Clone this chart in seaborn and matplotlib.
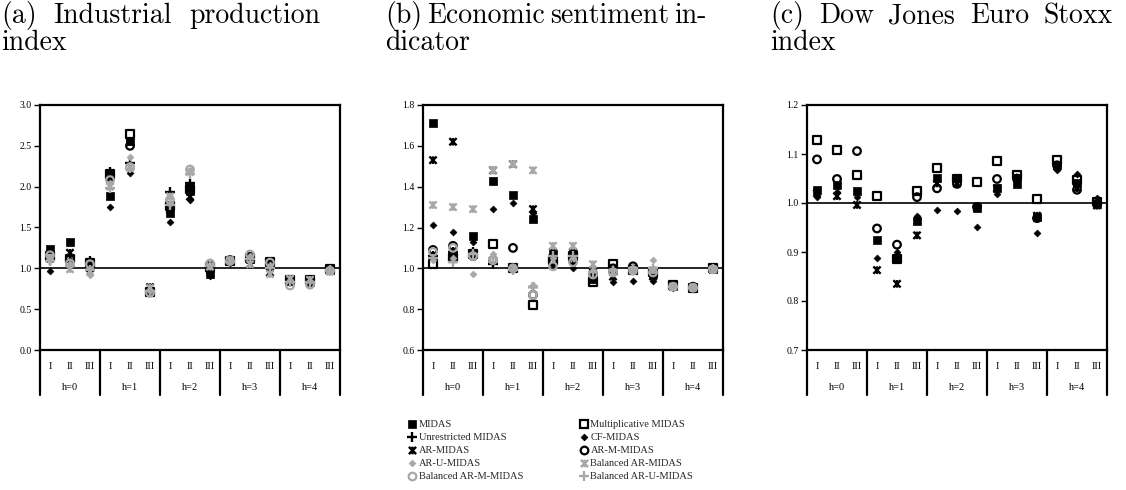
import numpy as np
import pandas as pd
import matplotlib
matplotlib.use("Agg")
import matplotlib.pyplot as plt
import seaborn as sns
from matplotlib.path import Path
from matplotlib.lines import Line2D
from matplotlib.transforms import blended_transform_factory

# ---------------- data ----------------
horizons = ["h=0", "h=1", "h=2", "h=3", "h=4"]
schemes = ["I", "II", "III"]
series_names = ["MIDAS", "Multiplicative MIDAS", "Unrestricted MIDAS", "CF-MIDAS",
                "AR-MIDAS", "AR-M-MIDAS", "AR-U-MIDAS", "Balanced AR-MIDAS",
                "Balanced AR-M-MIDAS", "Balanced AR-U-MIDAS"]
nan = np.nan

# (a) Industrial production index
a_midas  = [1.24, 1.32, 1.06, 1.89, 2.56, 0.71, 1.68, 1.95, 0.93, 1.10, 1.12, 1.06, 0.84, 0.83, 0.98]
a_mult   = [1.15, 1.12, 1.07, 2.15, 2.65, 0.71, 1.76, 1.97, 1.02, 1.09, 1.13, 1.08, 0.86, 0.86, 0.99]
a_unr    = [1.10, 1.15, 1.10, 2.18, 2.29, 0.72, 1.94, 2.04, 1.00, 1.08, 1.10, 1.07, 0.85, 0.84, 0.99]
a_cf     = [0.97, 1.10, 1.03, 1.75, 2.17, 0.74, 1.57, 1.84, 0.91, 1.06, 1.08, 1.05, 0.83, 0.82, 0.98]
a_ar     = [1.12, 1.19, 1.00, 2.13, 2.55, 0.77, 1.72, 1.88, 0.98, 1.08, 1.05, 0.95, 0.84, 0.84, 0.99]
a_arm    = [1.15, 1.12, 1.05, 2.12, 2.50, 0.72, 1.75, 1.96, 1.03, 1.10, 1.14, 1.06, 0.85, 0.84, 0.98]
a_aru    = [1.12, 1.05, 0.92, 2.05, 2.36, 0.72, 1.80, 2.20, 1.04, 1.09, 1.15, 1.04, 0.86, 0.85, 0.97]
a_bar    = [1.13, 0.99, 0.96, 2.00, 2.23, 0.76, 1.88, 2.18, 1.02, 1.10, 1.05, 0.93, 0.87, 0.86, 0.96]
a_barm   = [1.16, 1.06, 1.05, 2.08, 2.24, 0.70, 1.84, 2.21, 1.06, 1.09, 1.17, 1.07, 0.79, 0.80, 0.97]
a_baru   = [1.09, 1.03, 0.98, 1.98, 2.22, 0.72, 1.77, 2.15, 1.03, 1.08, 1.12, 1.00, 0.83, 0.83, 0.98]

# (b) Economic sentiment indicator
b_midas  = [1.71, 1.06, 1.16, 1.43, 1.36, 1.24, 1.07, 1.07, 0.95, 0.99, 0.99, 0.97, 0.915, 0.905, 0.995]
b_mult   = [1.02, 1.05, 1.07, 1.12, 1.00, 0.82, 1.04, 1.06, 0.935, 1.02, 0.99, 0.98, 0.92, 0.905, 1.00]
b_unr    = [1.06, 1.08, 1.08, 1.02, 1.00, 0.91, 1.06, 1.05, 0.97, 0.98, 1.00, 0.99, 0.91, 0.905, 1.00]
b_cf     = [1.21, 1.18, 1.13, 1.29, 1.32, 1.27, 1.02, 1.00, 0.96, 0.935, 0.94, 0.94, 0.905, 0.90, 0.995]
b_ar     = [1.53, 1.62, 1.07, 1.48, 1.51, 1.29, 1.08, 1.08, 0.98, 0.96, 0.99, 0.96, 0.91, 0.905, 0.995]
b_arm    = [1.09, 1.11, 1.06, 1.04, 1.10, 0.87, 1.03, 1.04, 0.95, 1.00, 1.01, 0.98, 0.915, 0.91, 1.00]
b_aru    = [1.04, 1.05, 0.97, 1.07, 1.00, 0.92, 1.05, 1.05, 0.99, 0.99, 0.99, 1.04, 0.91, 0.905, 1.00]
b_bar    = [1.31, 1.30, 1.29, 1.48, 1.51, 1.48, 1.11, 1.11, 1.02, 0.98, 0.99, 0.99, 0.91, 0.905, 0.995]
b_barm   = [1.08, 1.10, 1.06, 1.04, 1.00, 0.87, 1.01, 1.03, 0.97, 0.98, 0.99, 0.98, 0.91, 0.905, 0.995]
b_baru   = [1.05, 1.03, 1.07, 1.05, 0.99, 0.91, 1.06, 1.06, 0.98, 0.99, 1.00, 1.00, 0.91, 0.905, 1.00]

# (c) Dow Jones Euro Stoxx index
c_midas  = [1.027, 1.037, 1.025, 0.924, 0.887, 0.964, 1.050, 1.050, 0.990, 1.031, 1.039, 0.972, 1.078, 1.040, 0.998]
c_mult   = [1.129, 1.109, 1.058, 1.014, 0.885, 1.025, 1.072, 1.050, 1.043, 1.085, 1.057, 1.008, 1.087, 1.047, 1.003]
c_unr    = [nan] * 15
c_cf     = [1.012, 1.023, 1.012, 0.887, 0.899, 0.973, 0.985, 0.983, 0.951, 1.018, 1.050, 0.939, 1.068, 1.060, 1.010]
c_ar     = [1.020, 1.014, 0.996, 0.863, 0.835, 0.934, 1.040, 1.040, 0.990, 1.030, 1.050, 0.974, 1.075, 1.030, 0.995]
c_arm    = [1.089, 1.049, 1.106, 0.948, 0.915, 1.012, 1.030, 1.039, 0.992, 1.049, 1.050, 0.969, 1.077, 1.027, 0.997]
c_aru    = [nan] * 15
c_bar    = [nan] * 15
c_barm   = [nan] * 15
c_baru   = [nan] * 15

panels = [
    ("a", [a_midas, a_mult, a_unr, a_cf, a_ar, a_arm, a_aru, a_bar, a_barm, a_baru]),
    ("b", [b_midas, b_mult, b_unr, b_cf, b_ar, b_arm, b_aru, b_bar, b_barm, b_baru]),
    ("c", [c_midas, c_mult, c_unr, c_cf, c_ar, c_arm, c_aru, c_bar, c_barm, c_baru]),
]
y_ticks = {
    "a": [0.0, 0.5, 1.0, 1.5, 2.0, 2.5, 3.0],
    "b": [0.6, 0.8, 1.0, 1.2, 1.4, 1.6, 1.8],
    "c": [0.7, 0.8, 0.9, 1.0, 1.1, 1.2],
}
title_lines = [
    (["(a)", "Industrial", "production"], "index"),
    (["(b)", "Economic", "sentiment", "in-"], "dicator"),
    (["(c)", "Dow", "Jones", "Euro", "Stoxx"], "index"),
]

# ---------------- styles ----------------
sns.set_theme(style="white")
plt.rcParams["font.family"] = ["Liberation Serif", "DejaVu Serif"]

star = Path([(-1, -1), (1, 1), (-1, 1), (1, -1), (0, -1.05), (0, 1.05)],
            [Path.MOVETO, Path.LINETO, Path.MOVETO, Path.LINETO, Path.MOVETO, Path.LINETO])
BLACK = "#000000"
GRAY = "#a8a8a8"
styles = [
    dict(marker="s", s=28, color=BLACK, fill=True, lw=0.5),
    dict(marker="s", s=32, color=BLACK, fill=False, lw=1.6),
    dict(marker="+", s=44, color=BLACK, fill=False, lw=1.7),
    dict(marker="D", s=12, color=BLACK, fill=True, lw=0.5),
    dict(marker=star, s=30, color=BLACK, fill=False, lw=1.7),
    dict(marker="o", s=30, color=BLACK, fill=False, lw=1.6),
    dict(marker="D", s=12, color=GRAY, fill=True, lw=0.5),
    dict(marker=star, s=30, color=GRAY, fill=False, lw=1.7),
    dict(marker="o", s=30, color=GRAY, fill=False, lw=1.6),
    dict(marker="+", s=44, color=GRAY, fill=False, lw=1.7),
]

W, H = 1126, 490
fig = plt.figure(figsize=(W / 100, H / 100), dpi=100)

ax_left_px = [40, 423, 807]
ax_w_px = 300
ax_top_px, ax_bot_px = 105, 350

positions = np.arange(15)
for (key, vals), lpx in zip(panels, ax_left_px):
    ax = fig.add_axes([lpx / W, 1 - ax_bot_px / H, ax_w_px / W, (ax_bot_px - ax_top_px) / H])
    for name, v, st in zip(series_names, vals, styles):
        df = pd.DataFrame({"pos": positions, "value": v}).dropna()
        if df.empty:
            continue
        sns.scatterplot(data=df, x="pos", y="value", ax=ax, marker=st["marker"],
                        s=st["s"], color=st["color"], legend=False, zorder=3)
        coll = ax.collections[-1]
        coll.set_facecolor(st["color"] if st["fill"] else "none")
        coll.set_edgecolor(st["color"])
        coll.set_linewidth(st["lw"])
    ax.axhline(1.0, color="black", lw=1.2, zorder=2)
    ticks = y_ticks[key]
    ax.set_ylim(ticks[0], ticks[-1])
    ax.set_yticks(ticks)
    ax.set_yticklabels([f"{t:.1f}" for t in ticks], fontsize=7)
    ax.set_xlim(-0.5, 14.5)
    ax.set_xticks([])
    ax.set_xlabel("")
    ax.set_ylabel("")
    ax.tick_params(axis="y", which="major", direction="out", length=4, width=1,
                   left=True, pad=2, colors="black")
    for sp in ax.spines.values():
        sp.set_color("black")
        sp.set_linewidth(1.6)
    trans = blended_transform_factory(ax.transData, ax.transAxes)
    for i in range(15):
        ax.text(i, -0.068, schemes[i % 3], transform=trans, ha="center", va="center",
                fontsize=7.5, color="black")
    for k, hname in enumerate(horizons):
        ax.text(3 * k + 1, -0.155, hname, transform=trans, ha="center", va="center",
                fontsize=7.5, color="black")
    for xb in [-0.5, 2.5, 5.5, 8.5, 11.5, 14.5]:
        ax.add_line(Line2D([xb, xb], [0, -0.184], transform=trans, color="black",
                           lw=1.6, clip_on=False))

# ---------------- titles (justified first line) ----------------
tf = dict(fontfamily="cmr10", fontsize=20, color="black", va="center", ha="left")
y1 = 1 - 16 / H
y2 = 1 - 43 / H
col_bounds = [(1, 320), (385, 702), (770, 1113)]
renderer = fig.canvas.get_renderer()
for (words, second), (x0, x1) in zip(title_lines, col_bounds):
    texts = [fig.text(x0 / W, y1, w, **tf) for w in words]
    widths = [t.get_window_extent(renderer).width for t in texts]
    gap = max((x1 - x0 - sum(widths)) / (len(words) - 1), 5.0)
    x = x0
    for t, wd in zip(texts, widths):
        t.set_x(x / W)
        x += wd + gap
    fig.text(x0 / W, y2, second, **tf)

# ---------------- legend ----------------
handles = []
for st in styles:
    handles.append(Line2D([], [], linestyle="", marker=st["marker"],
                          markersize=np.sqrt(st["s"]),
                          markerfacecolor=st["color"] if st["fill"] else "none",
                          markeredgecolor=st["color"],
                          markeredgewidth=st["lw"] if not st["fill"] else 0.5))
order = [0, 2, 4, 6, 8, 1, 3, 5, 7, 9]
fig.legend([handles[i] for i in order], [series_names[i] for i in order], ncol=2,
           loc="upper left", bbox_to_anchor=(408 / W, 1 - 420 / H), frameon=False,
           fontsize=7.5, handlelength=0.8, handletextpad=0.25, labelspacing=0.36,
           columnspacing=5.4, borderpad=0, borderaxespad=0)

fig.savefig("out.png", dpi=100)
